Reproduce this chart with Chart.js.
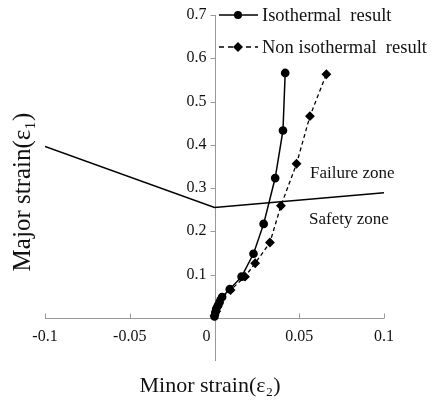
<!DOCTYPE html>
<html>
<head>
<meta charset="utf-8">
<script src="https://cdn.jsdelivr.net/npm/chart.js@4.4.1/dist/chart.umd.min.js"></script>
<style>
    body { margin: 0; background: #fff; }
    #wrap { width: 434px; height: 400px; }
</style>
</head>
<body>
<div id="wrap"><canvas id="flc"></canvas></div>
<script>
// Isothermal result
const isoX = [0, 0.0005, 0.001, 0.002, 0.003, 0.0045, 0.009, 0.016, 0.023, 0.029, 0.0358, 0.0404, 0.0417];
const isoY = [0.003, 0.012, 0.02, 0.028, 0.036, 0.048, 0.066, 0.095, 0.148, 0.217, 0.323, 0.433, 0.566];
// Non isothermal result
const nonIsoX = [0, 0.001, 0.002, 0.004, 0.0095, 0.018, 0.024, 0.0327, 0.0392, 0.0484, 0.0563, 0.066];
const nonIsoY = [0.005, 0.015, 0.027, 0.045, 0.064, 0.095, 0.126, 0.174, 0.259, 0.356, 0.466, 0.563];
// forming limit curve
const flcX = [-0.1, 0, 0.1];
const flcY = [0.396, 0.255, 0.289];

const xTicks = [-0.1, -0.05, 0, 0.05, 0.1];
const yTicks = [0.1, 0.2, 0.3, 0.4, 0.5, 0.6, 0.7];
const legendLabels = ['Isothermal  result', 'Non isothermal  result'];
const zoneLabels = ['Failure zone', 'Safety zone'];
const xTitle = 'Minor strain(ε₂)';
const yTitle = 'Major strain(ε₁)';

const SERIF = '"Liberation Serif", "Times New Roman", serif';
const AXIS = '#999';

function toPoints(xs, ys) {
    return xs.map((x, i) => ({ x: x, y: ys[i] }));
}

// axis lines, tick marks, legend, zone labels and titles
const decorPlugin = {
    id: 'decor',
    beforeDatasetsDraw(chart) {
        const ctx = chart.ctx;
        const xs = chart.scales.x;
        const ys = chart.scales.y;
        const y0 = Math.round(ys.getPixelForValue(0)) + 0.5;
        const x0 = Math.round(xs.getPixelForValue(0)) + 0.5;
        ctx.save();
        ctx.strokeStyle = AXIS;
        ctx.lineWidth = 1;
        ctx.beginPath();
        ctx.moveTo(xs.left, y0);
        ctx.lineTo(xs.right, y0);
        ctx.moveTo(x0, ys.top);
        ctx.lineTo(x0, ys.bottom);
        xTicks.forEach(v => {
            if (v === 0) return;
            const px = Math.round(xs.getPixelForValue(v)) + 0.5;
            ctx.moveTo(px, y0);
            ctx.lineTo(px, y0 - 5);
        });
        yTicks.forEach(v => {
            const py = Math.round(ys.getPixelForValue(v)) + 0.5;
            ctx.moveTo(x0, py);
            ctx.lineTo(x0 - 5, py);
        });
        ctx.stroke();
        ctx.restore();
    },
    afterDraw(chart) {
        const ctx = chart.ctx;
        ctx.save();

        // zone labels
        ctx.fillStyle = '#111';
        ctx.font = '17px ' + SERIF;
        ctx.textAlign = 'left';
        ctx.textBaseline = 'middle';
        ctx.fillText(zoneLabels[0], 310, 174);
        ctx.fillText(zoneLabels[1], 309, 220);

        // legend
        ctx.font = '18.5px ' + SERIF;
        const rows = [15, 47];
        rows.forEach((ry, i) => {
            ctx.strokeStyle = '#000';
            ctx.lineWidth = 1.5;
            ctx.setLineDash(i === 0 ? [] : [5, 4]);
            ctx.beginPath();
            ctx.moveTo(219, ry);
            ctx.lineTo(258, ry);
            ctx.stroke();
            ctx.setLineDash([]);
            ctx.fillStyle = '#000';
            ctx.beginPath();
            if (i === 0) {
                ctx.arc(238, ry, 4, 0, Math.PI * 2);
            } else {
                ctx.moveTo(238, ry - 5);
                ctx.lineTo(243, ry);
                ctx.lineTo(238, ry + 5);
                ctx.lineTo(233, ry);
                ctx.closePath();
            }
            ctx.fill();
            ctx.fillStyle = '#111';
            ctx.fillText(legendLabels[i], 262, ry + 1);
        });

        // axis titles
        ctx.font = '22px ' + SERIF;
        ctx.textAlign = 'center';
        ctx.fillText(xTitle, 210, 386);
        ctx.save();
        ctx.translate(23, 192);
        ctx.rotate(-Math.PI / 2);
        ctx.font = '25px ' + SERIF;
        ctx.fillText(yTitle, 0, 0);
        ctx.restore();

        ctx.restore();
    }
};

new Chart(document.getElementById('flc'), {
    type: 'scatter',
    data: {
        datasets: [
            {
                label: 'FLC',
                data: toPoints(flcX, flcY),
                showLine: true,
                borderColor: '#000',
                borderWidth: 1.6,
                pointRadius: 0,
                tension: 0
            },
            {
                label: legendLabels[0],
                data: toPoints(isoX, isoY),
                showLine: true,
                borderColor: '#000',
                backgroundColor: '#000',
                borderWidth: 1.5,
                pointStyle: 'circle',
                pointRadius: 3.6,
                tension: 0
            },
            {
                label: legendLabels[1],
                data: toPoints(nonIsoX, nonIsoY),
                showLine: true,
                borderColor: '#000',
                backgroundColor: '#000',
                borderWidth: 1.3,
                borderDash: [4, 3],
                pointStyle: 'rectRot',
                pointRadius: 4,
                tension: 0
            }
        ]
    },
    options: {
        responsive: true,
        maintainAspectRatio: false,
        animation: false,
        layout: { padding: { left: 45, right: 50, top: 15, bottom: 39 } },
        plugins: {
            legend: { display: false },
            tooltip: { enabled: false }
        },
        scales: {
            x: {
                type: 'linear',
                position: { y: 0 },
                min: -0.1,
                max: 0.1,
                afterBuildTicks: axis => { axis.ticks = xTicks.map(v => ({ value: v })); },
                grid: { display: false, drawTicks: false },
                border: { display: false },
                ticks: {
                    padding: 9,
                    color: '#111',
                    font: { family: SERIF, size: 16 },
                    maxRotation: 0,
                    autoSkip: false,
                    callback: v => v === 0 ? '0\u2002\u2002' : String(v)
                }
            },
            y: {
                type: 'linear',
                position: { x: 0 },
                min: -0.1,
                max: 0.7,
                afterBuildTicks: axis => { axis.ticks = yTicks.map(v => ({ value: v })); },
                grid: { display: false, drawTicks: false },
                border: { display: false },
                ticks: {
                    color: '#111',
                    font: { family: SERIF, size: 16 },
                    callback: v => (Math.round(v * 10) / 10).toString() + '\u2002'
                }
            }
        }
    },
    plugins: [decorPlugin]
});
</script>
</body>
</html>
